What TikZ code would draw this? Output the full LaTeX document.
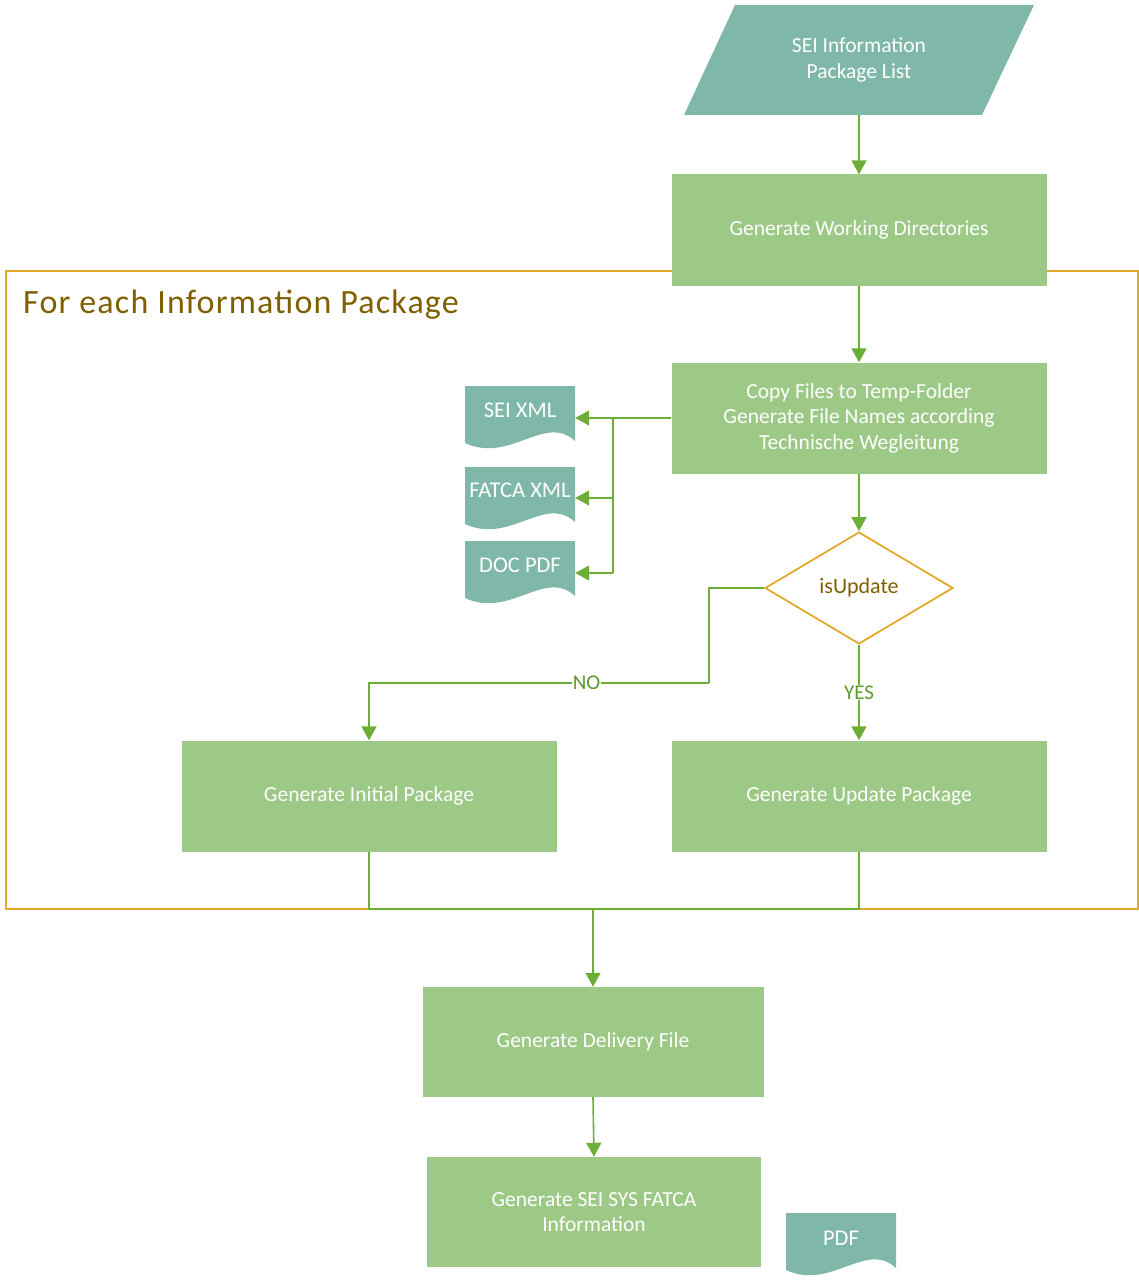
\documentclass[tikz,border=0pt]{standalone}
\usepackage{fontspec}
\setmainfont{Carlito}
\newfontfamily\titlefont[LetterSpace=3.5]{Carlito}
\usetikzlibrary{arrows.meta,shapes.geometric}
\definecolor{teal}{HTML}{7FB8A9}
\definecolor{boxgreen}{HTML}{9DC986}
\definecolor{arrgreen}{HTML}{6DAE36}
\definecolor{gold}{HTML}{E3A92B}
\definecolor{darkgold}{HTML}{7F6000}
\definecolor{lblgreen}{HTML}{5B9A2B}
\newcommand{\docshape}[3]{%
\begin{scope}[shift={(#1,#2)}]
\fill [teal] (0,0) -- (110,0) -- (110,#3) .. controls (80,#3-28) and (45,#3+23) .. (0,#3+2) -- cycle;
\end{scope}}

\tikzset{
  box/.style={fill=boxgreen, text=white, minimum width=375pt, minimum height=111pt,
    align=center, font=\fontsize{21.5}{25.5}\selectfont, inner sep=0pt},
  doclbl/.style={text=white, minimum width=110pt, font=\fontsize{22.5}{26}\selectfont, inner sep=0pt},
  arr/.style={arrgreen, line width=1.6pt, -{Triangle[length=14pt,width=15pt]}},
  line/.style={arrgreen, line width=1.6pt},
  lbl/.style={fill=white, text=lblgreen, inner sep=1pt, font=\fontsize{21}{24}\selectfont}
}

\begin{document}
\begin{tikzpicture}[x=1pt, y=-1pt]
\useasboundingbox (0,0) rectangle (1139,1281);
%%%%%%%%% loop frame
\draw [gold, line width=1.8pt] (6,271) rectangle (1138,909);
\node [anchor=west, inner sep=0pt, text=darkgold, font=\titlefont\fontsize{34}{38}\selectfont] (title) at (23,305) {For each Information Package};
%%%%%%%%% input list
\fill [teal] (735,5) -- (1034,5) -- (982,115) -- (684,115) -- cycle;
\node [box, fill=none, minimum width=300pt, minimum height=110pt] (list) at (859,60) {SEI Information\\Package List};
%%%%%%%%% process boxes
\node [box] (wdir) at (859,230) {Generate Working Directories};
\node [box] (copy) at (859,418) {Copy Files to Temp-Folder\\Generate File Names according\\Technische Wegleitung};
\node [diamond, draw=gold, line width=1.8pt, fill=white, minimum width=188pt, minimum height=112pt,
  inner sep=0pt, text=darkgold, font=\fontsize{22}{26}\selectfont] (upd?) at (859,588) {isUpdate};
\node [box] (init) at (369,796) {Generate Initial Package};
\node [box] (updp) at (859,796) {Generate Update Package};
\node [box, minimum width=341pt, minimum height=110pt] (dlvr) at (593,1042) {Generate Delivery File};
\node [box, minimum width=334pt, minimum height=110pt] (fatca) at (594,1212) {Generate SEI SYS FATCA\\Information};
%%%%%%%%% documents
\docshape{465}{386}{55}
\node [doclbl] (seix) at (520,410) {SEI XML};
\docshape{465}{467}{55}
\node [doclbl] (fatx) at (520,490) {FATCA XML};
\docshape{465}{541}{55}
\node [doclbl] (docp) at (520,565) {DOC PDF};
\docshape{786}{1213}{55}
\node [doclbl] (pdf) at (841,1238) {PDF};
%%%%%%%%% connectors
\draw [arr] (list.south) -- (wdir.north);
\draw [arr] (wdir.south) -- (copy.north);
\coordinate (b1) at (613,418);
\coordinate (b2) at (613,498);
\coordinate (b3) at (613,573);
\draw [arr] (copy.west) -- (b1) -- (b1 -| seix.east);
\draw [line] (b1) -- (b3);
\draw [arr] (b2) -- (b2 -| fatx.east);
\draw [arr] (b3) -- (b3 -| docp.east);
\draw [arr] (copy.south) -- (upd?.north);
\coordinate (no1) at (709,683);
\draw [line] (upd?.west) -| (no1);
\draw [arr] (no1) -| node [lbl, pos=0.18] {NO} (init.north);
\draw [arr] (upd?.south) -- node [lbl] {YES} (updp.north);
\coordinate (join) at (593,909);
\draw [line] (init.south) |- (join) -| (updp.south);
\draw [arr] (join) -- (dlvr.north);
\draw [arr] (dlvr.south) -- (fatca.north);
\end{tikzpicture}
\end{document}
